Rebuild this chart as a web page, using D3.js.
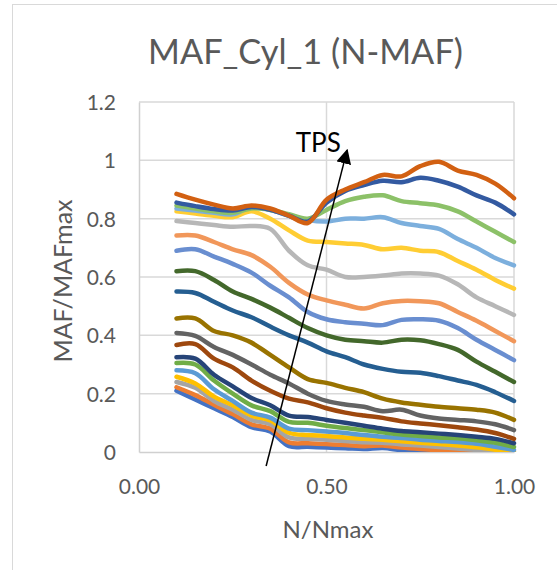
<!DOCTYPE html>
<html>
<head>
<meta charset="utf-8">
<script src="https://cdn.jsdelivr.net/npm/d3@7"></script>
<style>
  html, body { margin: 0; padding: 0; background: #fff; }
  svg { display: block; }
</style>
</head>
<body>
<script>
// ---------- data ----------
const xValues = [0.10,0.15,0.20,0.25,0.30,0.35,0.40,0.45,0.50,0.55,0.60,0.65,0.70,0.75,0.80,0.85,0.90,0.95,1.00];

const s01 = [0.210,0.180,0.150,0.120,0.085,0.070,0.020,0.018,0.015,0.013,0.010,0.014,0.006,0.002,-0.003,-0.007,-0.012,-0.017,-0.024];
const s02 = [0.222,0.195,0.162,0.130,0.095,0.080,0.033,0.030,0.027,0.024,0.020,0.022,0.015,0.010,0.006,0.002,-0.003,-0.008,-0.015];
const s03 = [0.240,0.220,0.175,0.145,0.110,0.095,0.050,0.045,0.042,0.038,0.033,0.032,0.026,0.022,0.017,0.012,0.007,0.000,-0.008];
const s04 = [0.258,0.235,0.190,0.160,0.125,0.108,0.066,0.058,0.055,0.050,0.045,0.042,0.037,0.032,0.027,0.022,0.016,0.008,0.000];
const s05 = [0.280,0.270,0.215,0.175,0.135,0.118,0.080,0.075,0.070,0.065,0.058,0.052,0.048,0.042,0.038,0.034,0.028,0.018,0.007];
const s06 = [0.305,0.300,0.245,0.200,0.160,0.140,0.103,0.100,0.090,0.082,0.075,0.068,0.060,0.055,0.050,0.047,0.040,0.032,0.017];
const s07 = [0.325,0.320,0.265,0.225,0.185,0.160,0.125,0.120,0.110,0.100,0.090,0.080,0.072,0.068,0.063,0.058,0.052,0.045,0.030];
const s08 = [0.367,0.370,0.320,0.290,0.245,0.210,0.183,0.170,0.150,0.135,0.125,0.117,0.105,0.098,0.092,0.085,0.077,0.065,0.045];
const s09 = [0.408,0.398,0.360,0.333,0.300,0.265,0.235,0.200,0.175,0.163,0.155,0.140,0.145,0.125,0.115,0.110,0.105,0.095,0.075];
const s10 = [0.458,0.458,0.415,0.400,0.375,0.333,0.290,0.250,0.237,0.220,0.205,0.183,0.170,0.162,0.155,0.150,0.145,0.135,0.110];
const s11 = [0.550,0.545,0.515,0.485,0.462,0.430,0.400,0.375,0.345,0.325,0.300,0.285,0.275,0.272,0.260,0.245,0.230,0.205,0.175];
const s12 = [0.620,0.620,0.590,0.550,0.525,0.495,0.460,0.425,0.400,0.385,0.380,0.375,0.385,0.383,0.370,0.350,0.310,0.275,0.240];
const s13 = [0.690,0.695,0.670,0.645,0.615,0.570,0.530,0.480,0.455,0.445,0.440,0.435,0.453,0.455,0.450,0.425,0.385,0.350,0.315];
const s14 = [0.742,0.742,0.720,0.695,0.675,0.635,0.580,0.540,0.520,0.505,0.492,0.510,0.518,0.517,0.510,0.480,0.450,0.415,0.380];
const s15 = [0.792,0.785,0.778,0.772,0.775,0.765,0.690,0.640,0.625,0.600,0.600,0.605,0.612,0.612,0.605,0.575,0.530,0.500,0.470];
const s16 = [0.825,0.818,0.810,0.805,0.825,0.800,0.760,0.725,0.720,0.715,0.710,0.695,0.700,0.690,0.685,0.655,0.625,0.590,0.560];
const s17 = [0.835,0.828,0.820,0.815,0.840,0.830,0.810,0.795,0.790,0.800,0.800,0.805,0.785,0.775,0.765,0.730,0.700,0.665,0.640];
const s18 = [0.845,0.835,0.825,0.820,0.835,0.830,0.815,0.800,0.830,0.860,0.875,0.880,0.860,0.853,0.845,0.825,0.790,0.755,0.720];
const s19 = [0.855,0.843,0.833,0.828,0.840,0.830,0.810,0.790,0.855,0.895,0.915,0.930,0.925,0.940,0.930,0.910,0.880,0.855,0.815];
const s20 = [0.885,0.865,0.848,0.835,0.845,0.835,0.810,0.785,0.865,0.900,0.925,0.950,0.945,0.980,0.995,0.965,0.950,0.920,0.870];

const seriesValues = [s01,s02,s03,s04,s05,s06,s07,s08,s09,s10,s11,s12,s13,s14,s15,s16,s17,s18,s19,s20];
const seriesColors = ["#4472C4","#ED7D31","#A5A5A5","#FFC000","#5B9BD5","#70AD47","#264478","#9E480E","#636363","#997300",
                      "#255E91","#43682B","#698ED0","#F1975A","#B7B7B7","#FFCD33","#7CAFDD","#8CC168","#335AA1","#D26012"];

const xTicks = [0, 0.5, 1.0];
const yTicks = [0, 0.2, 0.4, 0.6, 0.8, 1.0, 1.2];
const titleText = "MAF_Cyl_1 (N-MAF)";
const xTitle = "N/Nmax";
const yTitle = "MAF/MAFmax";
const arrowStart = [0.339, -0.048];
const arrowEnd = [0.555, 1.035];
const arrowLabel = "TPS";
const arrowLabelPos = [0.478, 1.028];

// ---------- layout ----------
const W = 557, H = 570;
const plot = { left: 139, right: 514, top: 102, bottom: 452 };
const FONT = "Lato, 'Open Sans', 'Liberation Sans', sans-serif";

const svg = d3.select("body").append("svg").attr("width", W).attr("height", H);

// chart border
svg.append("rect").attr("x", 12.5).attr("y", 4.5).attr("width", 700).attr("height", 700)
  .attr("fill", "#fff").attr("stroke", "#d9d9d9").attr("stroke-width", 1);

const x = d3.scaleLinear().domain([0, 1]).range([plot.left, plot.right]);
const y = d3.scaleLinear().domain([0, 1.2]).range([plot.bottom, plot.top]);

// gridlines
const grid = svg.append("g");
grid.selectAll("line.h").data(yTicks.filter(d => d > 0)).join("line")
  .attr("x1", plot.left).attr("x2", plot.right)
  .attr("y1", d => y(d)).attr("y2", d => y(d))
  .attr("stroke", "#d9d9d9").attr("stroke-width", 1.5);
grid.selectAll("line.v").data(xTicks.filter(d => d > 0)).join("line")
  .attr("y1", plot.top).attr("y2", plot.bottom)
  .attr("x1", d => x(d)).attr("x2", d => x(d))
  .attr("stroke", "#d9d9d9").attr("stroke-width", 1.5);

// axes
const xAxis = svg.append("g").attr("transform", `translate(0,${plot.bottom})`)
  .call(d3.axisBottom(x).tickValues(xTicks).tickFormat(d3.format(".2f")).tickSize(0).tickPadding(27));
const yAxis = svg.append("g").attr("transform", `translate(${plot.left},0)`)
  .call(d3.axisLeft(y).tickValues(yTicks).tickFormat(d => d3.format("")(+d.toFixed(1))).tickSize(0).tickPadding(23));
[xAxis, yAxis].forEach(a => {
  a.select(".domain").attr("stroke", "#d0d0d0").attr("stroke-width", 1.5);
  a.selectAll("text").attr("fill", "#595959").attr("font-family", FONT).attr("font-size", 21);
});
yAxis.selectAll("text").attr("dy", "0.36em");
xAxis.selectAll("text").attr("dy", "0.71em");

// clip
svg.append("clipPath").attr("id", "clip").append("rect")
  .attr("x", plot.left).attr("y", plot.top - 10)
  .attr("width", plot.right - plot.left + 5).attr("height", plot.bottom - plot.top + 10);

const line = d3.line()
  .x((d, i) => x(xValues[i]))
  .y(d => y(d))
  .curve(d3.curveCatmullRom.alpha(0.5));

svg.append("g").attr("clip-path", "url(#clip)")
  .selectAll("path").data(seriesValues).join("path")
  .attr("d", d => line(d))
  .attr("fill", "none")
  .attr("stroke", (d, i) => seriesColors[i])
  .attr("stroke-width", 4.5)
  .attr("stroke-linejoin", "round")
  .attr("stroke-linecap", "round");

// arrow
const defs = svg.append("defs");
defs.append("marker").attr("id", "arrowhead")
  .attr("viewBox", "0 0 10 10").attr("refX", 9).attr("refY", 5)
  .attr("markerWidth", 10).attr("markerHeight", 10).attr("orient", "auto")
  .attr("markerUnits", "strokeWidth")
  .append("path").attr("d", "M0,0 L10,5 L0,10 Z").attr("fill", "#000");

svg.append("line")
  .attr("x1", x(arrowStart[0])).attr("y1", y(arrowStart[1]))
  .attr("x2", x(arrowEnd[0])).attr("y2", y(arrowEnd[1]))
  .attr("stroke", "#000").attr("stroke-width", 1.5)
  .attr("marker-end", "url(#arrowhead)");

svg.append("text")
  .attr("x", x(arrowLabelPos[0])).attr("y", y(arrowLabelPos[1]))
  .attr("text-anchor", "middle")
  .attr("font-family", FONT).attr("font-size", 26).attr("fill", "#000")
  .text(arrowLabel);

// titles
svg.append("text").attr("x", 305.5).attr("y", 64).attr("text-anchor", "middle")
  .attr("font-family", FONT).attr("font-size", 35).attr("fill", "#595959")
  .attr("textLength", 315).attr("lengthAdjust", "spacingAndGlyphs")
  .text(titleText);
svg.append("text").attr("x", 328).attr("y", 538).attr("text-anchor", "middle")
  .attr("font-family", FONT).attr("font-size", 24).attr("fill", "#595959")
  .text(xTitle);
svg.append("text").attr("transform", `translate(72,281) rotate(-90)`)
  .attr("text-anchor", "middle")
  .attr("font-family", FONT).attr("font-size", 25).attr("fill", "#595959")
  .text(yTitle);
</script>
</body>
</html>
